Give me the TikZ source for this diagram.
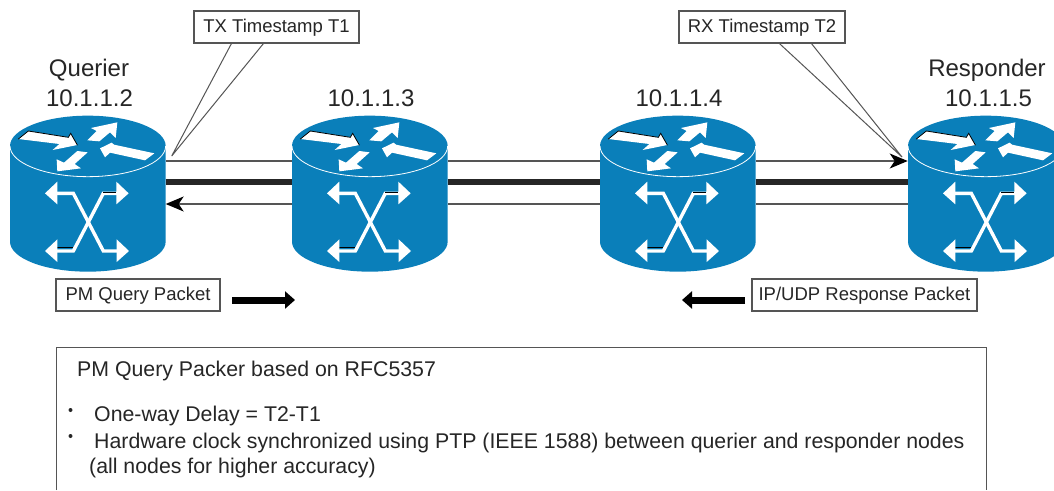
\documentclass[tikz,border=0pt]{standalone}
\usepackage{fontspec}
\setmainfont{Liberation Sans}
\usetikzlibrary{arrows.meta,calc}
\definecolor{rblue}{HTML}{0A7FBA}
\definecolor{lgray}{HTML}{555555}
\tikzset{
  x=1pt,y=-1pt,
  lbl/.style={font=\fontsize{24}{28}\selectfont,text=black!85,inner sep=0pt},
  boxlbl/.style={font=\fontsize{18.5}{22}\selectfont,text=black!85,draw=lgray,line width=1.1pt,fill=white,inner sep=0pt,minimum height=32pt,text height=13.5pt,text depth=3.5pt},
  txt/.style={font=\fontsize{21.3}{25}\selectfont,text=black!85,inner sep=0pt,anchor=base west},
  routerbox/.style={minimum width=156pt,minimum height=156pt,inner sep=0pt,outer sep=0pt},
  thin line/.style={draw=lgray,line width=1.2pt},
  thick line/.style={draw=black!85,line width=6pt},
  head/.style={-{Stealth[length=18pt,width=15pt,inset=5pt,black]}},
  callout/.style={draw=lgray,line width=1pt},
  fat arrow/.style={draw=black,line width=7pt,-{Triangle[length=10pt,width=17pt]}},
  rarrow/.style={fill=white,draw=none},
  xline/.style={draw=white,line width=3.4pt,line join=miter},
  xhead/.style={fill=white,draw=none},
  edge/.style={draw=black,line width=.8pt,line cap=round},
  router/.pic={
    \begin{scope}[x=1/3*1pt,y=-1/3*1pt]
    \fill[rblue] (30,138) -- (30,425) arc[start angle=180,end angle=0,x radius=233.5,y radius=90] -- (497,138)
       arc[start angle=0,end angle=-180,x radius=233.5,y radius=91] -- cycle;
    \draw[white,line width=.8pt] (30,138) arc[start angle=180,end angle=0,x radius=233.5,y radius=92];
    % flat arrows on the top
    \fill[rarrow] (55,117) -- (85,93) -- (205,112) -- (212,100) -- (232,135) -- (158,150) -- (178,132) -- cycle;
    \draw[edge] (55,117) -- (85,93) -- (205,112) -- (212,100) -- (232,135);
    \fill[rarrow] (262,121) -- (290,93) -- (273,84) -- (352,67) -- (347,114) -- (330,97) -- (298,124) -- cycle;
    \fill[rarrow] (300,145) -- (335,128) -- (342,134) -- (463,160) -- (435,181) -- (330,158) -- (315,172) -- cycle;
    \fill[rarrow] (232,153) -- (263,157) -- (224,192) -- (243,205) -- (172,214) -- (170,178) -- (192,188) -- cycle;
    % crossing arrows
    \draw[xline] (165,280) -- (220,280) -- (310,453) -- (355,453);
    \draw[xline] (165,453) -- (220,453) -- (310,280) -- (355,280);
    \draw[black,line width=.8pt] (310,276) -- (348,276) (172,442) -- (218,442);
    \fill[xhead] (135,280) -- (172,245) -- (172,313) -- cycle;
    \fill[xhead] (386,280) -- (349,245) -- (349,313) -- cycle;
    \fill[xhead] (135,453) -- (172,418) -- (172,486) -- cycle;
    \fill[xhead] (387,453) -- (350,418) -- (350,486) -- cycle;
    \end{scope}
  }
}
\begin{document}
\begin{tikzpicture}
\useasboundingbox (0,0) rectangle (1054,490);
\fill[white] (0,0) rectangle (1054,490);
% routers
\node[routerbox] (r1) at (87.7,194) {};
\node[routerbox] (r2) at (369.7,194) {};
\node[routerbox] (r3) at (677.7,194) {};
\node[routerbox] (r4) at (985.7,194) {};
\pic at (0,100) {router};
\pic at (282,100) {router};
\pic at (590,100) {router};
\pic at (898,100) {router};
% links
\foreach \a/\b in {r1/r2,r2/r3,r3/r4}{
  \draw[thick line] ([yshift=12pt]\a.east) -- ([yshift=12pt]\b.west);
}
\draw[thin line] ([yshift=33pt]r1.east) -- ([yshift=33pt]r2.west);
\draw[thin line] ([yshift=33pt]r2.east) -- ([yshift=33pt]r3.west);
\draw[thin line,head] ([yshift=33pt]r3.east) -- ([yshift=33pt]r4.west);
\draw[thin line,head] ([yshift=-10pt]r2.west) -- ([yshift=-10pt]r1.east);
\draw[thin line] ([yshift=-10pt]r3.west) -- ([yshift=-10pt]r2.east);
\draw[thin line] ([yshift=-10pt]r4.west) -- ([yshift=-10pt]r3.east);
% labels
\node[lbl] (q) at (89,70) {Querier};
\node[lbl] (a1) at (89.5,98) {10.1.1.2};
\node[lbl] (a2) at (371,98) {10.1.1.3};
\node[lbl] (a3) at (679,98) {10.1.1.4};
\node[lbl] (re) at (987,70) {Responder};
\node[lbl] (a4) at (988.5,98) {10.1.1.5};
% callouts
\node[boxlbl,minimum width=165pt] (tx) at (276.5,27) {TX Timestamp T1};
\node[boxlbl,minimum width=166pt] (rx) at (762,27) {RX Timestamp T2};
\coordinate (txtip) at (171.7,156);
\coordinate (rxtip) at (902,157);
\draw[callout] ($(tx.south west)+(38,0)$) -- (txtip) -- ($(tx.south west)+(70,0)$);
\draw[callout] ($(rx.south west)+(101,0)$) -- (rxtip) -- ($(rx.south west)+(133,0)$);
% packet labels
\node[boxlbl,minimum width=164pt] (pq) at (138,295) {PM Query Packet};
\node[boxlbl,minimum width=225pt] (ip) at (864.5,295) {IP/UDP Response Packet};
\coordinate (pqa) at (232,300);
\coordinate (pqb) at (295,300);
\coordinate (ipa) at (745,300);
\coordinate (ipb) at (682,300);
\draw[fat arrow] (pqa) -- (pqb);
\draw[fat arrow] (ipa) -- (ipb);
% text panel
\coordinate (pa) at (56,490);
\coordinate (pb) at (56,347);
\coordinate (pc) at (986,347);
\coordinate (pd) at (986,490);
\draw[draw=lgray,line width=1pt] (pa) -- (pb) -- (pc) -- (pd);
\node[txt] (t1) at (77,376) {PM Query Packer based on RFC5357};
\node[txt] (t2) at (94,421) {One-way Delay = T2-T1};
\node[txt] (t3) at (94,448) {Hardware clock synchronized using PTP (IEEE 1588) between querier and responder nodes};
\node[txt] (t4) at (89,473) {(all nodes for higher accuracy)};
\fill[black!85] (70.5,410) circle[radius=2] (70.5,436) circle[radius=2];
\end{tikzpicture}
\end{document}
